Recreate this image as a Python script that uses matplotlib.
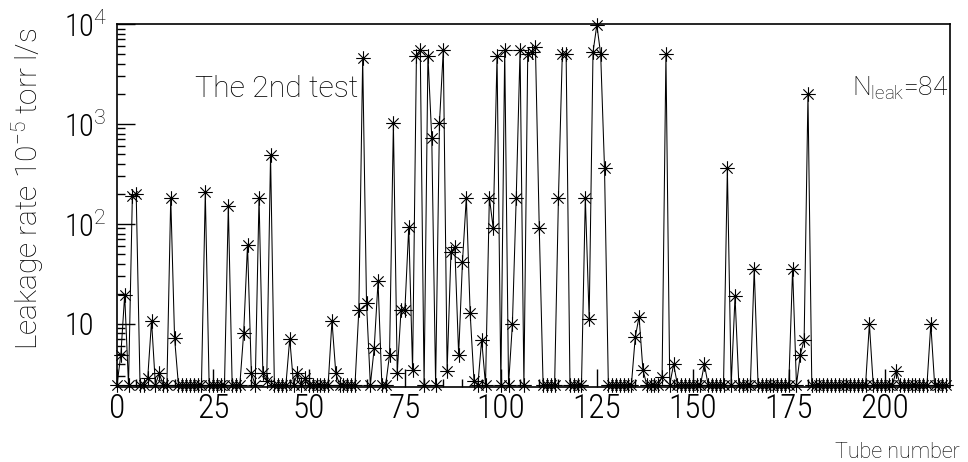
import numpy as np
import matplotlib
matplotlib.use("Agg")
import matplotlib.pyplot as plt
from matplotlib import font_manager as fm
from matplotlib.path import Path
from matplotlib.ticker import FixedLocator, FuncFormatter, LogLocator, MultipleLocator, NullFormatter

# tubes that leaked, and their leakage rate (1e-5 torr l/s)
leak_tubes = [1, 2, 4, 5, 8, 9, 11, 14, 15,
              23, 29, 33, 34, 35, 37, 38, 39, 40,
              45, 47, 49, 56, 57,
              63, 64, 65, 67, 68,
              71, 72, 73, 74, 75, 76, 77, 78, 79,
              81, 82, 84, 85, 86, 87, 88, 89, 90, 91, 92, 93,
              95, 97, 98, 99, 101, 103, 104, 105,
              107, 108, 109, 110,
              115, 116, 117,
              122, 123, 124, 125, 126, 127,
              135, 136, 137,
              142, 143, 145,
              153, 159, 161, 166, 176, 178, 179, 180,
              196, 203, 212]
leak_rates = [4.9, 19.5, 190, 200, 2.86, 10.7, 3.2, 183, 7.2,
              207, 152, 8.1, 62, 3.2, 183, 3.2, 2.7, 490,
              7.1, 3.2, 2.86, 10.7, 3.2,
              13.8, 4540, 16.1, 5.7, 26.5,
              4.9, 1016, 3.2, 13.8, 13.8, 93, 3.47, 4800, 5500,
              4800, 720, 1016, 5500, 3.4, 52, 59, 4.9, 42, 183, 12.8, 2.7,
              6.9, 183, 91, 4800, 5500, 9.9, 183, 5500,
              5000, 5300, 5900, 91,
              183, 4980, 4980,
              183, 11.2, 5200, 9800, 4980, 360,
              7.3, 11.8, 3.47,
              2.95, 4980, 3.95,
              3.95, 360, 18.8, 35.5, 35.5, 4.9, 6.9, 1980,
              9.9, 3.4, 9.9]
n_tubes = 217
floor_rate = 2.45   # tubes without a measurable leak sit at the floor

y_major = [10, 100, 1000, 10000]
y_labels = ['10', '10$^{2}$', '10$^{3}$', '10$^{4}$']


def pick_font(cands):
    for fam in cands:
        try:
            fm.findfont(fm.FontProperties(family=fam), fallback_to_default=False)
            return fam
        except ValueError:
            pass
    return 'DejaVu Sans'


text_font = pick_font(['Roboto', 'Lato', 'Liberation Sans'])
num_font = pick_font(['Roboto Condensed', 'Liberation Sans Narrow', 'Roboto'])
plt.rcParams['font.family'] = [text_font, 'DejaVu Sans']
plt.rcParams['font.weight'] = 'light'
plt.rcParams['axes.labelweight'] = 'light'
plt.rcParams['mathtext.fontset'] = 'custom'
plt.rcParams['mathtext.rm'] = text_font + ':light'
plt.rcParams['mathtext.it'] = text_font + ':italic:light'

tubes = np.arange(n_tubes)
rate = np.full(n_tubes, floor_rate)
rate[leak_tubes] = leak_rates

# asterisk marker (horizontal, vertical and both diagonals)
d = np.sqrt(0.5)
star = Path([(-1, 0), (1, 0), (0, -1), (0, 1), (-d, -d), (d, d), (-d, d), (d, -d)],
            [Path.MOVETO, Path.LINETO] * 4)

fig = plt.figure(figsize=(9.68, 4.62), dpi=100)
ax = fig.add_axes([117 / 968, 1 - 387 / 462, (950 - 117) / 968, (387 - 24) / 462])

ax.plot(tubes, rate, color='k', lw=0.75, marker=star, ms=10.5, mew=0.8,
        mfc='none', mec='k', clip_on=False)

ax.set_yscale('log')
ax.set_ylim(2.33, 1e4)
ax.set_xlim(0, 217)

ax.yaxis.set_major_locator(FixedLocator(y_major))
ax.yaxis.set_major_formatter(FuncFormatter(lambda v, p: y_labels[y_major.index(round(v))] if round(v) in y_major else ''))
ax.yaxis.set_minor_locator(LogLocator(base=10, subs=range(2, 10)))
ax.yaxis.set_minor_formatter(NullFormatter())
ax.xaxis.set_major_locator(MultipleLocator(25))
ax.xaxis.set_minor_locator(MultipleLocator(5))

ax.tick_params(which='both', direction='in', top=False, right=False, width=1)
ax.tick_params(which='major', length=13, labelsize=24)
ax.tick_params(which='minor', length=6)
ax.tick_params(axis='y', which='major', pad=38, labelsize=22)
ax.tick_params(axis='x', which='major', pad=4)
for lab in ax.get_xticklabels() + ax.get_yticklabels():
    lab.set_fontfamily([num_font, 'DejaVu Sans'])
    lab.set_fontweight('light')
for lab in ax.get_yticklabels():
    lab.set_horizontalalignment('left')
for sp in ax.spines.values():
    sp.set_linewidth(1.2)

ax.set_ylabel('Leakage rate 10$^{-5}$ torr l/s', fontsize=21.5, fontweight='light')
ax.yaxis.set_label_coords(-0.085, 0.545)
fig.text(960 / 968, 1 - 458 / 462, 'Tube number', fontsize=15.5, ha='right', va='baseline')

fig.text(195 / 968, 1 - 97 / 462, 'The 2nd test', fontsize=21.8, va='baseline')
fig.text(852 / 968, 1 - 96 / 462, 'N$_{\\mathrm{leak}}$=84', fontsize=19, va='baseline')

fig.savefig('out.png', dpi=100)
